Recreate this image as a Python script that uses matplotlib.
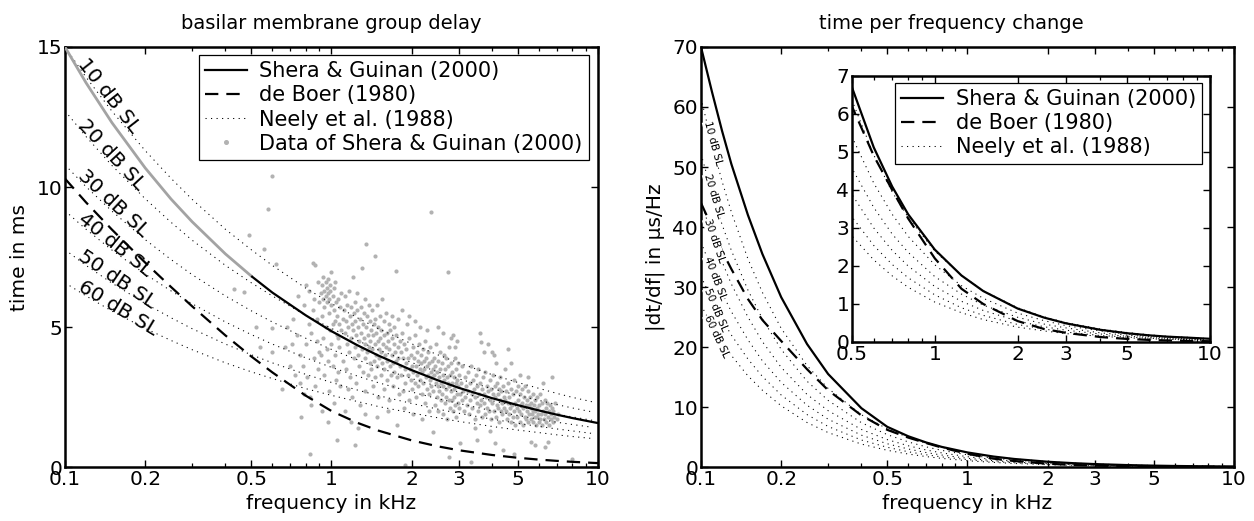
import numpy as np
import matplotlib
matplotlib.use('Agg')
import matplotlib.pyplot as plt
from matplotlib.lines import Line2D
from matplotlib.ticker import FixedLocator, FixedFormatter, LogLocator, NullFormatter

plt.rcParams['font.family'] = ['DejaVu Sans']
plt.rcParams['font.size'] = 14

# ---------------- left panel: group delay (ms) ----------------
delay_f = [0.1, 0.12, 0.15, 0.2, 0.25, 0.3, 0.4, 0.5, 0.6, 0.8, 1, 1.25, 1.5, 2, 2.5, 3, 4, 5, 6, 7, 8, 9.5, 10]
sg_delay = [15.0, 13.72, 12.30, 10.68, 9.57, 8.76, 7.61, 6.82, 6.23, 5.42, 4.85, 4.35, 3.98, 3.46,
            3.10, 2.83, 2.46, 2.21, 2.02, 1.87, 1.75, 1.61, 1.57]
deboer_delay = [10.3, 9.45, 8.48, 7.30, 6.43, 5.74, 4.70, 3.95, 3.38, 2.55, 2.0, 1.58, 1.30, 0.95,
                0.74, 0.60, 0.43, 0.33, 0.265, 0.22, 0.186, 0.15, 0.14]

neely_f = [0.1, 0.12, 0.15, 0.2, 0.25, 0.3, 0.4, 0.5, 0.6, 0.8, 1, 1.25, 1.5, 2, 2.5, 3, 4, 5, 6, 7, 8, 9.5]
neely_levels = ['10 dB SL', '20 dB SL', '30 dB SL', '40 dB SL', '50 dB SL', '60 dB SL']
neely_10 = [15.0, 13.92, 12.71, 11.30, 10.31, 9.56, 8.49, 7.76, 7.20, 6.39, 5.84, 5.33, 4.94, 4.40, 4.01, 3.72, 3.30, 3.02, 2.81, 2.63, 2.49, 2.33]
neely_20 = [12.72, 11.80, 10.77, 9.58, 8.74, 8.10, 7.20, 6.58, 6.11, 5.42, 4.95, 4.52, 4.18, 3.73, 3.40, 3.15, 2.80, 2.56, 2.38, 2.23, 2.11, 1.97]
neely_30 = [10.79, 10.01, 9.14, 8.12, 7.41, 6.87, 6.11, 5.58, 5.18, 4.60, 4.20, 3.83, 3.55, 3.16, 2.88, 2.68, 2.37, 2.17, 2.02, 1.89, 1.79, 1.67]
neely_40 = [9.15, 8.49, 7.75, 6.89, 6.29, 5.83, 5.18, 4.73, 4.39, 3.90, 3.56, 3.25, 3.01, 2.68, 2.44, 2.27, 2.01, 1.84, 1.71, 1.60, 1.52, 1.42]
neely_50 = [7.76, 7.20, 6.57, 5.84, 5.33, 4.94, 4.39, 4.01, 3.72, 3.31, 3.02, 2.75, 2.55, 2.27, 2.07, 1.92, 1.71, 1.56, 1.45, 1.36, 1.29, 1.20]
neely_60 = [6.58, 6.11, 5.57, 4.95, 4.52, 4.19, 3.72, 3.40, 3.16, 2.80, 2.56, 2.34, 2.16, 1.93, 1.76, 1.63, 1.45, 1.32, 1.23, 1.15, 1.09, 1.02]

# measured data of Shera & Guinan (2000): (frequency kHz, delay ms)
sg_data = [
    (0.49, 8.3), (0.56, 7.8), (0.58, 9.2), (0.60, 10.4), (0.62, 7.25), (0.43, 6.35), (0.47, 6.25), (0.52, 5.0),
    (0.60, 4.96), (0.68, 5.0), (0.54, 4.3), (0.60, 4.1), (0.67, 4.3), (0.70, 3.6), (0.65, 2.8), (0.76, 3.0), (0.77, 1.8),
    (0.72, 5.3), (0.74, 4.7), (0.75, 6.1), (0.76, 4.0), (0.78, 3.6), (0.79, 5.8), (0.80, 6.5), (0.80, 4.4),
    (0.81, 3.2), (0.82, 6.3), (0.82, 5.1), (0.83, 0.46), (0.83, 2.5), (0.84, 4.8), (0.85, 7.3), (0.85, 5.6),
    (0.86, 3.9), (0.86, 6.0), (0.87, 7.2), (0.87, 2.9), (0.88, 4.5), (0.88, 5.3), (0.89, 6.6), (0.89, 3.5),
    (0.90, 5.9), (0.90, 4.1), (0.71, 4.4), (0.73, 3.3), (0.79, 2.6), (0.84, 2.2),
    (0.91, 6.2), (0.92, 6.5), (0.92, 5.4), (0.93, 6.0), (0.93, 6.8), (0.93, 4.6), (0.94, 6.3), (0.94, 5.7),
    (0.94, 3.3), (0.95, 6.6), (0.95, 6.1), (0.95, 5.0), (0.96, 6.4), (0.96, 5.9), (0.96, 4.2), (0.97, 6.7),
    (0.97, 6.2), (0.97, 3.8), (0.98, 6.0), (0.98, 5.5), (0.98, 2.7), (0.99, 6.5), (0.99, 6.3), (0.99, 4.9),
    (1.00, 6.97), (1.00, 5.8), (1.00, 4.4), (1.01, 6.1), (1.01, 3.6), (1.02, 5.6), (1.02, 6.4), (1.02, 2.3),
    (1.03, 5.2), (1.03, 4.0), (1.04, 5.9), (1.04, 3.1), (1.05, 0.96), (1.05, 5.4), (1.05, 4.7), (1.06, 6.0),
    (1.06, 3.4), (1.07, 5.1), (1.07, 4.3), (1.08, 5.7), (1.08, 2.9), (1.09, 4.9), (1.09, 6.2), (1.10, 3.8),
    (1.10, 5.3), (0.91, 4.0), (0.92, 2.0), (0.97, 1.6), (1.01, 5.1), (1.03, 6.6), (1.06, 4.6),
    (1.11, 5.6), (1.12, 4.8), (1.12, 6.1), (1.13, 3.5), (1.13, 5.2), (1.14, 4.4), (1.14, 5.8), (1.15, 2.8),
    (1.15, 5.0), (1.16, 6.3), (1.16, 4.1), (1.17, 5.4), (1.17, 3.2), (1.18, 5.7), (1.18, 4.6), (1.19, 2.5),
    (1.19, 5.1), (1.20, 6.8), (1.20, 4.9), (1.21, 5.5), (1.21, 3.9), (1.22, 4.3), (1.22, 5.9), (1.23, 0.78),
    (1.23, 5.2), (1.24, 4.7), (1.24, 3.0), (1.25, 5.6), (1.25, 6.2), (1.26, 4.0), (1.26, 5.0), (1.27, 4.5),
    (1.27, 3.6), (1.28, 5.3), (1.28, 2.2), (1.29, 4.8), (1.29, 5.7), (1.30, 7.1), (1.30, 4.2), (1.31, 5.1),
    (1.31, 3.4), (1.32, 4.6), (1.32, 5.5), (1.33, 3.9), (1.33, 6.0), (1.34, 4.4), (1.34, 2.7), (1.35, 7.95),
    (1.35, 5.0), (1.36, 4.1), (1.36, 5.4), (1.37, 3.3), (1.37, 4.7), (1.38, 5.8), (1.38, 4.3), (1.39, 3.7),
    (1.39, 5.2), (1.40, 4.5), (1.12, 2.0), (1.18, 1.6), (1.26, 1.4), (1.33, 1.9),
    (1.41, 4.9), (1.41, 3.5), (1.42, 5.6), (1.42, 4.2), (1.43, 2.9), (1.43, 4.7), (1.44, 5.1), (1.44, 3.8),
    (1.45, 4.4), (1.46, 7.54), (1.46, 5.3), (1.46, 3.2), (1.47, 4.0), (1.47, 4.8), (1.48, 5.8), (1.48, 3.6),
    (1.49, 4.5), (1.50, 2.5), (1.50, 5.0), (1.51, 4.2), (1.51, 3.9), (1.52, 5.4), (1.52, 4.6), (1.53, 3.3),
    (1.54, 4.9), (1.54, 4.1), (1.55, 6.0), (1.55, 3.7), (1.56, 4.4), (1.57, 5.2), (1.57, 2.8), (1.58, 4.7),
    (1.58, 3.5), (1.59, 4.0), (1.60, 5.5), (1.60, 4.3), (1.61, 3.1), (1.62, 4.8), (1.62, 3.8), (1.63, 4.5),
    (1.64, 5.1), (1.64, 2.4), (1.65, 4.2), (1.66, 3.6), (1.66, 4.9), (1.67, 3.3), (1.68, 4.6), (1.68, 5.4),
    (1.69, 4.0), (1.70, 3.7), (1.70, 2.9), (1.71, 4.4), (1.72, 5.0), (1.72, 3.4), (1.73, 4.1), (1.74, 3.8),
    (1.75, 7.0), (1.75, 4.7), (1.76, 3.2), (1.77, 4.3), (1.78, 3.9), (1.78, 5.3), (1.79, 2.6), (1.80, 4.5),
    (1.48, 1.8), (1.63, 2.0), (1.76, 1.5),
    (1.81, 3.6), (1.82, 4.1), (1.83, 3.3), (1.84, 4.8), (1.85, 3.9), (1.86, 2.7), (1.87, 4.4), (1.88, 3.5),
    (1.89, 0.07), (1.89, 3.0), (1.90, 4.2), (1.91, 3.7), (1.92, 5.1), (1.93, 3.3), (1.94, 3.9), (1.95, 2.4),
    (1.96, 4.6), (1.97, 3.5), (1.98, 3.1), (1.99, 4.0), (2.00, 3.6), (2.01, 2.8), (2.02, 4.3), (2.03, 3.4),
    (2.04, 3.9), (2.05, 3.0), (2.06, 4.7), (2.07, 3.6), (2.08, 2.5), (2.09, 4.1), (2.10, 3.3), (2.11, 3.8),
    (2.12, 2.9), (2.13, 4.4), (2.14, 3.5), (2.15, 3.1), (2.16, 4.0), (2.17, 3.7), (2.18, 2.6), (2.19, 3.4),
    (2.20, 4.2), (2.21, 3.0), (2.22, 3.8), (2.23, 3.5), (2.24, 2.3), (2.25, 4.5), (2.26, 3.2), (2.27, 3.9),
    (2.28, 2.8), (2.29, 3.6), (2.30, 4.1), (2.31, 3.3), (2.32, 2.6), (2.33, 3.7), (2.34, 3.1), (2.35, 4.3),
    (2.36, 9.1), (2.36, 3.4), (2.37, 2.9), (2.38, 3.8), (2.39, 3.2), (2.40, 1.25), (2.40, 3.5), (1.84, 5.6),
    (1.95, 5.4), (2.05, 5.2), (2.14, 5.0), (2.28, 4.9), (1.87, 2.1), (2.02, 1.9), (2.18, 1.7), (2.33, 2.0),
    (2.41, 2.7), (2.42, 3.9), (2.43, 3.3), (2.44, 2.2), (2.45, 3.6), (2.46, 3.0), (2.47, 4.4), (2.48, 2.5),
    (2.49, 3.4), (2.50, 2.9), (2.51, 3.8), (2.52, 2.0), (2.53, 3.2), (2.54, 2.7), (2.55, 4.1), (2.56, 3.5),
    (2.57, 2.4), (2.58, 3.0), (2.59, 3.7), (2.60, 2.6), (2.61, 3.3), (2.62, 1.9), (2.63, 2.9), (2.64, 4.0),
    (2.65, 3.1), (2.66, 2.3), (2.67, 3.5), (2.68, 2.8), (2.69, 3.9), (2.70, 2.5), (2.71, 3.2), (2.72, 1.7),
    (2.73, 6.97), (2.73, 3.0), (2.74, 3.6), (2.75, 0.36), (2.75, 2.4), (2.76, 2.9), (2.77, 4.3), (2.78, 3.3),
    (2.79, 2.1), (2.80, 2.7), (2.81, 3.7), (2.82, 3.0), (2.83, 2.4), (2.84, 3.4), (2.85, 2.0), (2.86, 4.7),
    (2.87, 2.8), (2.88, 3.2), (2.89, 2.5), (2.90, 3.9), (2.91, 2.2), (2.92, 3.0), (2.93, 3.5), (2.94, 1.8),
    (2.95, 2.6), (2.96, 3.1), (2.97, 2.3), (2.98, 3.7), (2.99, 2.9), (3.00, 2.1), (3.02, 3.3), (3.03, 0.85),
    (3.04, 2.6), (3.06, 3.0), (3.08, 2.4), (3.10, 3.6), (3.12, 2.7), (3.14, 2.0), (3.16, 3.2), (3.18, 2.5),
    (3.20, 2.9), (2.50, 5.0), (2.62, 4.8), (2.80, 4.6), (2.95, 4.5),
    (3.22, 2.2), (3.24, 3.4), (3.26, 2.7), (3.28, 1.9), (3.30, 3.0), (3.32, 2.4), (3.33, 0.18), (3.34, 3.6),
    (3.36, 2.6), (3.38, 2.1), (3.40, 3.1), (3.42, 2.8), (3.44, 1.7), (3.46, 2.5), (3.48, 3.3), (3.50, 0.96),
    (3.50, 2.3), (3.52, 2.9), (3.54, 2.0), (3.56, 3.5), (3.58, 2.6), (3.60, 2.2), (3.62, 3.0), (3.64, 2.4),
    (3.66, 1.8), (3.68, 2.8), (3.70, 3.2), (3.72, 2.3), (3.74, 2.6), (3.76, 1.9), (3.78, 3.4), (3.80, 2.5),
    (3.82, 2.1), (3.84, 2.9), (3.86, 4.4), (3.88, 2.7), (3.90, 2.0), (3.92, 3.1), (3.94, 2.4), (3.96, 1.7),
    (3.98, 2.8), (4.00, 2.3), (4.02, 3.3), (4.04, 2.6), (4.06, 2.0), (4.08, 4.0), (4.10, 0.85), (4.10, 2.5),
    (4.12, 2.9), (4.14, 1.8), (4.16, 2.2), (4.18, 3.0), (4.20, 2.6), (4.22, 2.1), (4.24, 2.8), (4.26, 1.6),
    (4.28, 2.4), (4.30, 3.2), (4.32, 2.0), (4.34, 2.7), (4.36, 2.3), (4.38, 1.9), (4.40, 0.6), (4.40, 2.9),
    (4.42, 2.5), (4.44, 2.1), (4.46, 3.5), (4.48, 2.4), (3.60, 4.8), (3.63, 4.47), (3.75, 4.1), (4.00, 4.1),
    (4.15, 3.7), (3.45, 1.4), (3.92, 1.3), (2.90, 4.3),
    (4.50, 2.0), (4.52, 2.7), (4.55, 1.7), (4.58, 2.3), (4.60, 4.2), (4.60, 3.0), (4.62, 1.9), (4.65, 2.5),
    (4.68, 2.1), (4.70, 3.7), (4.70, 1.6), (4.72, 2.8), (4.75, 2.2), (4.78, 1.8), (4.80, 2.6), (4.82, 2.0),
    (4.85, 3.1), (4.88, 2.3), (4.90, 1.5), (4.92, 2.7), (4.95, 2.1), (4.98, 1.8), (5.00, 2.4), (5.02, 2.9),
    (5.05, 2.0), (5.08, 1.6), (5.10, 2.6), (5.12, 2.2), (5.15, 1.9), (5.18, 2.8), (5.20, 2.3), (5.22, 1.5),
    (5.25, 2.1), (5.28, 2.5), (5.30, 1.8), (5.32, 2.9), (5.35, 2.2), (5.38, 1.7), (5.40, 2.4), (5.42, 2.0),
    (5.45, 2.7), (5.48, 1.6), (5.50, 2.2), (5.52, 1.9), (5.55, 2.5), (5.58, 2.1), (5.60, 0.9), (5.60, 1.7),
    (5.62, 2.3), (5.65, 1.9), (5.68, 2.6), (5.70, 2.0), (5.72, 1.6), (5.75, 2.2), (5.78, 1.8), (5.80, 2.4),
    (5.82, 2.0), (5.85, 1.5), (5.88, 2.1), (5.90, 1.8), (5.92, 2.5), (5.95, 1.9), (5.98, 1.6), (4.85, 0.45),
    (5.10, 3.3), (5.45, 3.2), (5.80, 0.8),
    (6.00, 2.2), (6.04, 1.7), (6.08, 2.6), (6.10, 1.9), (6.15, 2.3), (6.18, 1.5), (6.20, 3.0), (6.22, 2.0),
    (6.26, 1.7), (6.30, 2.4), (6.33, 1.9), (6.36, 2.1), (6.40, 1.6), (6.44, 2.3), (6.48, 1.8), (6.52, 2.0),
    (6.56, 1.5), (6.60, 2.2), (6.64, 1.9), (6.68, 1.7), (6.72, 2.1), (6.76, 1.6), (6.80, 2.0), (6.85, 1.8),
    (6.90, 2.3), (7.00, 1.7), (7.10, 1.9), (6.70, 3.2), (6.50, 0.9), (6.35, 0.7), (8.00, 0.3),
]

# ---------------- right panel: |dt/df| (us/Hz) ----------------
rate_f = [0.1, 0.11, 0.12, 0.13, 0.15, 0.17, 0.2, 0.25, 0.3, 0.4, 0.5, 0.6, 0.7, 0.8, 1, 1.25, 1.5, 2, 2.5, 3, 4, 5, 6, 7, 8, 10]
sg_rate = [70.0, 62.5, 56.0, 50.5, 42.0, 35.5, 28.3, 20.5, 15.5, 9.8, 6.7, 5.12, 4.09, 3.36, 2.43, 1.75,
           1.34, 0.88, 0.64, 0.49, 0.32, 0.23, 0.175, 0.14, 0.12, 0.084]
deboer_rate = [44.0, 40.0, 36.0, 33.0, 28.0, 24.5, 21.0, 16.3, 12.8, 8.6, 6.2, 4.9, 4.0, 3.25, 2.2, 1.4,
               1.0, 0.55, 0.34, 0.24, 0.13, 0.08, 0.055, 0.04, 0.03, 0.02]
neely_rate_f = [0.1, 0.11, 0.12, 0.13, 0.15, 0.17, 0.2, 0.25, 0.3, 0.4, 0.5, 0.6, 0.7, 0.8, 1, 1.25, 1.5, 2, 2.5, 3, 4, 5, 6, 7, 8, 9.5]
neely_rate_10 = [61.5, 53.8, 47.6, 42.5, 34.7, 29.1, 23.1, 16.9, 13.1, 8.71, 6.36, 4.92, 3.95, 3.28, 2.39, 1.75, 1.35, 0.90, 0.66, 0.51, 0.34, 0.25, 0.19, 0.15, 0.13, 0.10]
neely_rate_20 = [52.2, 45.6, 40.4, 36.1, 29.5, 24.7, 19.6, 14.3, 11.1, 7.39, 5.40, 4.18, 3.36, 2.78, 2.03, 1.48, 1.15, 0.76, 0.56, 0.43, 0.29, 0.21, 0.16, 0.13, 0.11, 0.085]
neely_rate_30 = [44.2, 38.6, 34.2, 30.5, 25.0, 20.9, 16.6, 12.1, 9.39, 6.26, 4.57, 3.54, 2.84, 2.36, 1.72, 1.26, 0.97, 0.65, 0.47, 0.37, 0.24, 0.18, 0.14, 0.11, 0.093, 0.072]
neely_rate_40 = [37.5, 32.8, 29.0, 25.9, 21.2, 17.7, 14.1, 10.3, 7.97, 5.31, 3.88, 3.00, 2.41, 2.00, 1.46, 1.07, 0.83, 0.55, 0.40, 0.31, 0.21, 0.15, 0.12, 0.094, 0.079, 0.061]
neely_rate_50 = [31.8, 27.8, 24.6, 22.0, 18.0, 15.1, 12.0, 8.74, 6.76, 4.50, 3.29, 2.54, 2.04, 1.69, 1.24, 0.90, 0.70, 0.46, 0.34, 0.26, 0.17, 0.13, 0.099, 0.080, 0.067, 0.052]
neely_rate_60 = [27.0, 23.6, 20.9, 18.6, 15.2, 12.8, 10.2, 7.42, 5.74, 3.82, 2.79, 2.16, 1.74, 1.44, 1.05, 0.77, 0.59, 0.39, 0.29, 0.22, 0.15, 0.11, 0.084, 0.068, 0.057, 0.044]

xticks_main = [0.1, 0.2, 0.5, 1, 2, 3, 5, 10]
xticks_inset = [0.5, 1, 2, 3, 5, 10]
legend_labels = ['Shera & Guinan (2000)', 'de Boer (1980)', 'Neely et al. (1988)', 'Data of Shera & Guinan (2000)']

# ---------------- styles ----------------
GRAY_PTS = '#b2b2b2'
GRAY_LINE = '#a3a3a3'
LW = 1.6
DASH = (6.0, 3.6)
DOT = (1.1, 4.2)
DOT_LW = 0.75
TICK_FS = 14.5
LEG_FS = 15


def fmt(v):
    return ('%g' % v)


def style_axes(ax, xt, ymaj):
    ax.set_xscale('log')
    ax.xaxis.set_major_locator(FixedLocator(xt))
    ax.xaxis.set_major_formatter(FixedFormatter([fmt(v) for v in xt]))
    ax.xaxis.set_minor_locator(LogLocator(base=10, subs=np.arange(2, 10) * 1.0, numticks=30))
    ax.xaxis.set_minor_formatter(NullFormatter())
    ax.set_yticks(ymaj)
    ax.tick_params(which='both', direction='in', top=True, right=True, labelsize=TICK_FS)
    ax.tick_params(which='major', length=5, width=1.0, pad=2)
    ax.tick_params(which='minor', length=3, width=0.9)
    for s in ax.spines.values():
        s.set_linewidth(1.8)


def make_legend(ax, handles, labels, anchor):
    leg = ax.legend(handles, labels, loc='upper right', bbox_to_anchor=anchor, borderaxespad=0,
                    fontsize=LEG_FS, fancybox=False, framealpha=1, edgecolor='k', handlelength=2.0,
                    handletextpad=0.6, labelspacing=0.2, borderpad=0.3)
    leg.get_frame().set_linewidth(0.9)
    return leg


fig = plt.figure(figsize=(12.54, 5.21), dpi=100)

# ---------- left panel ----------
axL = fig.add_axes([0.0518, 0.1036, 0.4251, 0.8062])
pts = np.array(sg_data)
axL.scatter(pts[:, 0], pts[:, 1], s=9, color=GRAY_PTS, linewidths=0, zorder=1.5)

neely_delay = [neely_10, neely_20, neely_30, neely_40, neely_50, neely_60]
for vals in neely_delay:
    axL.plot(neely_f, vals, color='k', lw=DOT_LW, dashes=DOT, zorder=2)

dfa = np.array(delay_f)
sga = np.array(sg_delay)
lo = dfa <= 0.5
hi = dfa >= 0.5
axL.plot(dfa[lo], sga[lo], color=GRAY_LINE, lw=2.0, zorder=3)
axL.plot(dfa[hi], sga[hi], color='k', lw=LW, zorder=3, solid_capstyle='butt')
axL.plot(delay_f, deboer_delay, color='k', lw=LW, dashes=DASH, zorder=3)

# level labels along the Neely curves
angles_L = [-52, -47, -43, -39, -34, -31]
f0 = 0.111
for lab, vals, ang in zip(neely_levels, neely_delay, angles_L):
    y0 = np.interp(np.log10(f0), np.log10(neely_f), vals)
    axL.text(f0, y0, lab, rotation=ang, rotation_mode='anchor', ha='left', va='baseline',
             fontsize=14.5, zorder=4)

axL.set_xlim(0.1, 10)
axL.set_ylim(0, 15)
style_axes(axL, xticks_main, [0, 5, 10, 15])
axL.set_title('basilar membrane group delay', fontsize=14, pad=13)
axL.set_xlabel('frequency in kHz', fontsize=14.5, labelpad=4)
axL.set_ylabel('time in ms', fontsize=14.5)
axL.yaxis.set_label_coords(-0.068, 0.5)

hL = [Line2D([], [], color='k', lw=LW),
      Line2D([], [], color='k', lw=LW, dashes=DASH),
      Line2D([], [], color='k', lw=DOT_LW, dashes=DOT),
      Line2D([], [], ls='none', marker='o', ms=2.6, mfc=GRAY_PTS, mec=GRAY_PTS)]
legL = make_legend(axL, hL, legend_labels, (0.983, 0.981))
legL.set_zorder(6)

# ---------- right panel ----------
axR = fig.add_axes([0.559, 0.1036, 0.425, 0.8062])
neely_rate = [neely_rate_10, neely_rate_20, neely_rate_30, neely_rate_40, neely_rate_50, neely_rate_60]
for vals in neely_rate:
    axR.plot(neely_rate_f, vals, color='k', lw=DOT_LW, dashes=DOT, zorder=2)
axR.plot(rate_f, sg_rate, color='k', lw=LW, zorder=3)
axR.plot(rate_f, deboer_rate, color='k', lw=LW, dashes=DASH, zorder=3)

angles_R = [-75, -73, -71, -69, -67, -65]
fr0 = 0.105
for lab, vals, ang in zip(neely_levels, neely_rate, angles_R):
    y0 = np.interp(np.log10(fr0), np.log10(neely_rate_f), vals)
    axR.text(fr0, y0, lab, rotation=ang, rotation_mode='anchor', ha='left', va='center',
             fontsize=7.5, zorder=3.2,
             bbox=dict(boxstyle='square,pad=0', facecolor='white', edgecolor='none'))

axR.set_xlim(0.1, 10)
axR.set_ylim(0, 70)
style_axes(axR, xticks_main, list(range(0, 71, 10)))
axR.set_title('time per frequency change', fontsize=14, pad=13, x=0.47)
axR.set_xlabel('frequency in kHz', fontsize=14.5, labelpad=4)
axR.set_ylabel('|dt/df| in \u00b5s/Hz', fontsize=14.5)
axR.yaxis.set_label_coords(-0.068, 0.5)

# ---------- inset ----------
axI = fig.add_axes([0.6794, 0.3436, 0.2855, 0.5106])
axI.set_zorder(5)
for vals in neely_rate:
    axI.plot(neely_rate_f, vals, color='k', lw=DOT_LW, dashes=DOT, zorder=2)
axI.plot(rate_f, sg_rate, color='k', lw=LW, zorder=3)
axI.plot(rate_f, deboer_rate, color='k', lw=LW, dashes=DASH, zorder=3)
axI.set_xlim(0.5, 10)
axI.set_ylim(0, 7)
style_axes(axI, xticks_inset, list(range(0, 8)))
make_legend(axI, hL[:3], legend_labels[:3], (0.978, 0.974))

fig.savefig('out.png', dpi=100)
